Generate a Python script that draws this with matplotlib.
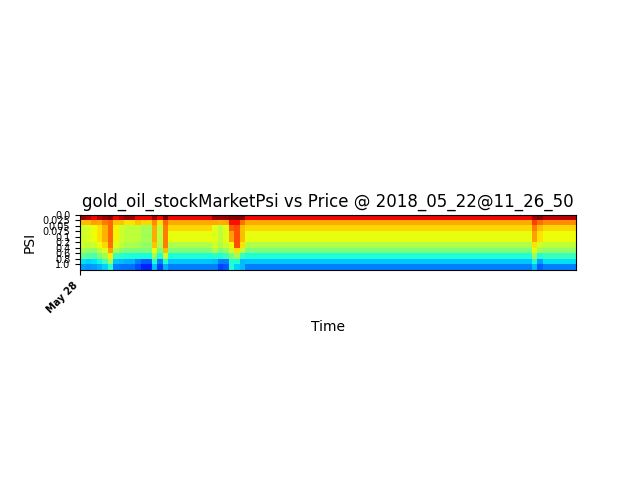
import numpy as np
import matplotlib
matplotlib.use("Agg")
import matplotlib.pyplot as plt

title = "gold_oil_stockMarketPsi vs Price @ 2018_05_22@11_26_50"
psi_labels = ["0.0", "0.025", "0.05", "0.075", "0.1", "0.2", "0.4", "0.6", "0.8", "1.0"]
date_label = "May 28"

# column profiles (one value per PSI row, top to bottom) and how many time steps each lasts
base = [0.90, 0.73, 0.68, 0.63, 0.63, 0.56, 0.50, 0.39, 0.32, 0.25]
profiles = [
    [0.97, 0.71, 0.60, 0.60, 0.60, 0.60, 0.545, 0.47, 0.345, 0.28],
    [0.945, 0.71, 0.61, 0.61, 0.61, 0.58, 0.53, 0.45, 0.33, 0.27],
    [0.90, 0.74, 0.64, 0.64, 0.64, 0.60, 0.52, 0.44, 0.345, 0.28],
    [0.945, 0.73, 0.67, 0.67, 0.67, 0.64, 0.58, 0.50, 0.37, 0.30],
    [0.97, 0.78, 0.72, 0.72, 0.72, 0.68, 0.62, 0.55, 0.43, 0.33],
    [0.99, 0.80, 0.80, 0.80, 0.80, 0.79, 0.74, 0.66, 0.54, 0.40],
    [0.90, 0.70, 0.65, 0.65, 0.65, 0.62, 0.56, 0.42, 0.32, 0.25],
    [0.945, 0.70, 0.60, 0.60, 0.60, 0.58, 0.52, 0.40, 0.31, 0.24],
    [0.97, 0.67, 0.58, 0.58, 0.58, 0.56, 0.50, 0.39, 0.30, 0.235],
    [0.90, 0.70, 0.58, 0.58, 0.58, 0.55, 0.50, 0.38, 0.25, 0.20],
    [0.90, 0.68, 0.55, 0.55, 0.55, 0.53, 0.50, 0.38, 0.22, 0.16],
    [0.97, 0.76, 0.73, 0.73, 0.73, 0.70, 0.64, 0.545, 0.39, 0.31],
    [0.90, 0.67, 0.58, 0.58, 0.58, 0.56, 0.50, 0.39, 0.25, 0.19],
    [1.00, 0.80, 0.775, 0.775, 0.775, 0.775, 0.71, 0.60, 0.39, 0.30],
    base,
    [0.97, 0.73, 0.62, 0.62, 0.62, 0.60, 0.56, 0.40, 0.31, 0.25],
    [0.97, 0.72, 0.58, 0.58, 0.58, 0.56, 0.50, 0.39, 0.25, 0.19],
    [0.97, 0.73, 0.62, 0.62, 0.62, 0.60, 0.53, 0.42, 0.25, 0.21],
    [0.99, 0.894, 0.81, 0.74, 0.74, 0.64, 0.60, 0.50, 0.39, 0.39],
    [0.99, 0.894, 0.826, 0.826, 0.826, 0.826, 0.67, 0.545, 0.39, 0.33],
    [0.99, 0.79, 0.71, 0.71, 0.71, 0.67, 0.58, 0.42, 0.31, 0.31],
    base,
    [0.97, 0.84, 0.775, 0.74, 0.74, 0.67, 0.62, 0.545, 0.39, 0.31],
    [0.99, 0.79, 0.71, 0.67, 0.67, 0.60, 0.545, 0.39, 0.28, 0.22],
    [0.945, 0.76, 0.68, 0.64, 0.64, 0.58, 0.52, 0.42, 0.345, 0.25],
]
runs = [1, 1, 1, 1, 1, 1, 1, 1, 2, 1, 2, 1, 1, 1, 8, 1, 1, 1, 1, 1, 1, 52, 1, 1, 6]

cols = []
for p, r in zip(profiles, runs):
    cols.extend([p] * r)
data = np.array(cols).T  # rows = PSI levels, columns = time
n_rows, n_cols = data.shape

fig, ax = plt.subplots(figsize=(6.4, 4.8), dpi=100)
ax.imshow(data, cmap="jet", vmin=0, vmax=1, interpolation="nearest",
          extent=(0, n_cols, n_rows, 0), aspect="equal")
ax.set_yticks(np.arange(n_rows))
ax.set_yticklabels(psi_labels, fontsize=7)
ax.set_xticks([0])
ax.set_xticklabels([date_label], rotation=45, ha="right", fontsize=7, fontweight="bold")
ax.set_ylabel("PSI")
ax.set_xlabel("Time")
ax.set_title(title)
fig.savefig("out.png", dpi=100)
